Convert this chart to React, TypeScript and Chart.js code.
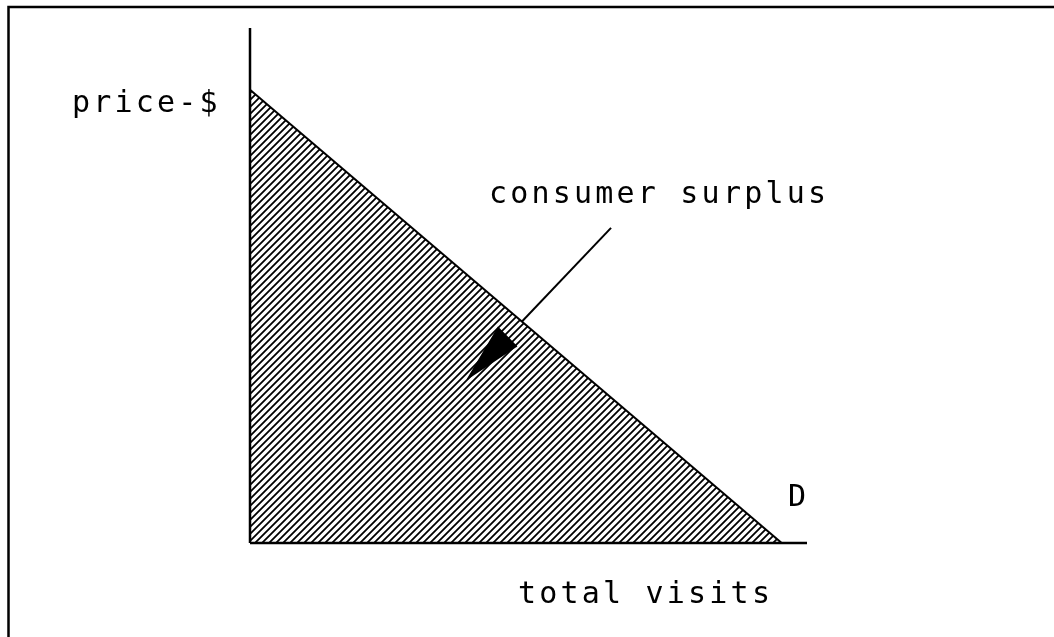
import React, { useEffect, useRef } from 'react';
import { Chart, registerables } from 'chart.js';

Chart.register(...registerables);

// ---- data ----
const demandQuantity = [0, 105];
const demandPrice = [88, 0];
const xAxisQuantity = [0, 110];
const yAxisPrice = [0, 100];
const pointerX = [71.3, 50.8];
const pointerY = [61.2, 40.0];
const arrowHeadX = [42.9, 49.0, 52.7];
const arrowHeadY = [31.7, 41.8, 38.1];
const labelTexts = ['price-$', 'consumer surplus', 'D', 'total visits'];

// ---- layout (pixels) ----
const W = 1054;
const H = 637;
const labelPos = [
  [72, 112],
  [489, 203],
  [788, 506],
  [518, 603],
];
const FONT = '30px "DejaVu Sans Mono"';
const LETTER_SPACING = '3.2px';

function makeHatch(): CanvasPattern | string {
  const s = 7;
  const c = document.createElement('canvas');
  c.width = s;
  c.height = s;
  const g = c.getContext('2d');
  if (!g) return '#000';
  g.fillStyle = '#fff';
  g.fillRect(0, 0, s, s);
  g.strokeStyle = '#000';
  g.lineWidth = 1.8;
  g.lineCap = 'square';
  g.beginPath();
  g.moveTo(0, s);
  g.lineTo(s, 0);
  g.moveTo(-2, 2);
  g.lineTo(2, -2);
  g.moveTo(s - 2, s + 2);
  g.lineTo(s + 2, s - 2);
  g.stroke();
  const p = g.createPattern(c, 'repeat');
  return p || '#000';
}

const zip = (xs: number[], ys: number[]) => xs.map((x, i) => ({ x, y: ys[i] }));

const framePlugin = {
  id: 'frame',
  beforeDraw(chart: any) {
    const ctx = chart.ctx;
    ctx.save();
    ctx.fillStyle = '#fff';
    ctx.fillRect(0, 0, W, H);
    ctx.strokeStyle = '#000';
    ctx.lineWidth = 2.5;
    ctx.beginPath();
    ctx.moveTo(8.5, H);
    ctx.lineTo(8.5, 7);
    ctx.lineTo(W, 7);
    ctx.stroke();
    ctx.restore();
  },
};

const labelsPlugin = {
  id: 'labels',
  afterDraw(chart: any) {
    const ctx = chart.ctx;
    ctx.save();
    ctx.fillStyle = '#000';
    ctx.font = FONT;
    ctx.textBaseline = 'alphabetic';
    ctx.textAlign = 'left';
    (ctx as any).letterSpacing = LETTER_SPACING;
    labelTexts.forEach((t, i) => {
      ctx.fillText(t, labelPos[i][0], labelPos[i][1]);
    });
    ctx.restore();
  },
};

export default function App() {
  const ref = useRef<HTMLCanvasElement>(null);
  useEffect(() => {
    if (!ref.current) return;
    const hatch = makeHatch();
    const chart = new Chart(ref.current, {
      type: 'scatter',
      data: {
        datasets: [
          {
            label: 'demand',
            data: zip(demandQuantity, demandPrice),
            showLine: true,
            borderColor: '#000',
            borderWidth: 2,
            backgroundColor: hatch as any,
            fill: 'origin',
            pointRadius: 0,
            clip: false as any,
            order: 2,
          },
          {
            label: 'x axis',
            data: zip(xAxisQuantity, [0, 0]),
            showLine: true,
            borderColor: '#000',
            borderWidth: 2.5,
            pointRadius: 0,
            fill: false,
            clip: false as any,
            order: 1,
          },
          {
            label: 'y axis',
            data: zip([0, 0], yAxisPrice),
            showLine: true,
            borderColor: '#000',
            borderWidth: 2.5,
            pointRadius: 0,
            fill: false,
            clip: false as any,
            order: 1,
          },
          {
            label: 'pointer',
            data: zip(pointerX, pointerY),
            showLine: true,
            borderColor: '#000',
            borderWidth: 2,
            pointRadius: 0,
            fill: false,
            clip: false as any,
            order: 3,
          },
          {
            label: 'arrow head',
            data: zip(arrowHeadX, arrowHeadY),
            showLine: true,
            borderColor: '#000',
            borderWidth: 1.5,
            backgroundColor: '#000',
            fill: 'shape' as any,
            pointRadius: 0,
            clip: false as any,
            order: 0,
          },
        ],
      },
      options: {
        animation: false,
        responsive: false,
        devicePixelRatio: 1,
        layout: { padding: { left: 250, right: 247, top: 28, bottom: 94 } },
        plugins: {
          legend: { display: false },
          tooltip: { enabled: false },
        },
        scales: {
          x: { type: 'linear', min: 0, max: 110, display: false },
          y: { type: 'linear', min: 0, max: 100, display: false },
        },
      },
      plugins: [framePlugin, labelsPlugin],
    });
    return () => chart.destroy();
  }, []);
  return (
    <div style={{ position: 'fixed', left: 0, top: 0, width: W, height: H, background: '#fff' }}>
      <canvas ref={ref} width={W} height={H} style={{ display: 'block', width: W, height: H }} />
    </div>
  );
}
